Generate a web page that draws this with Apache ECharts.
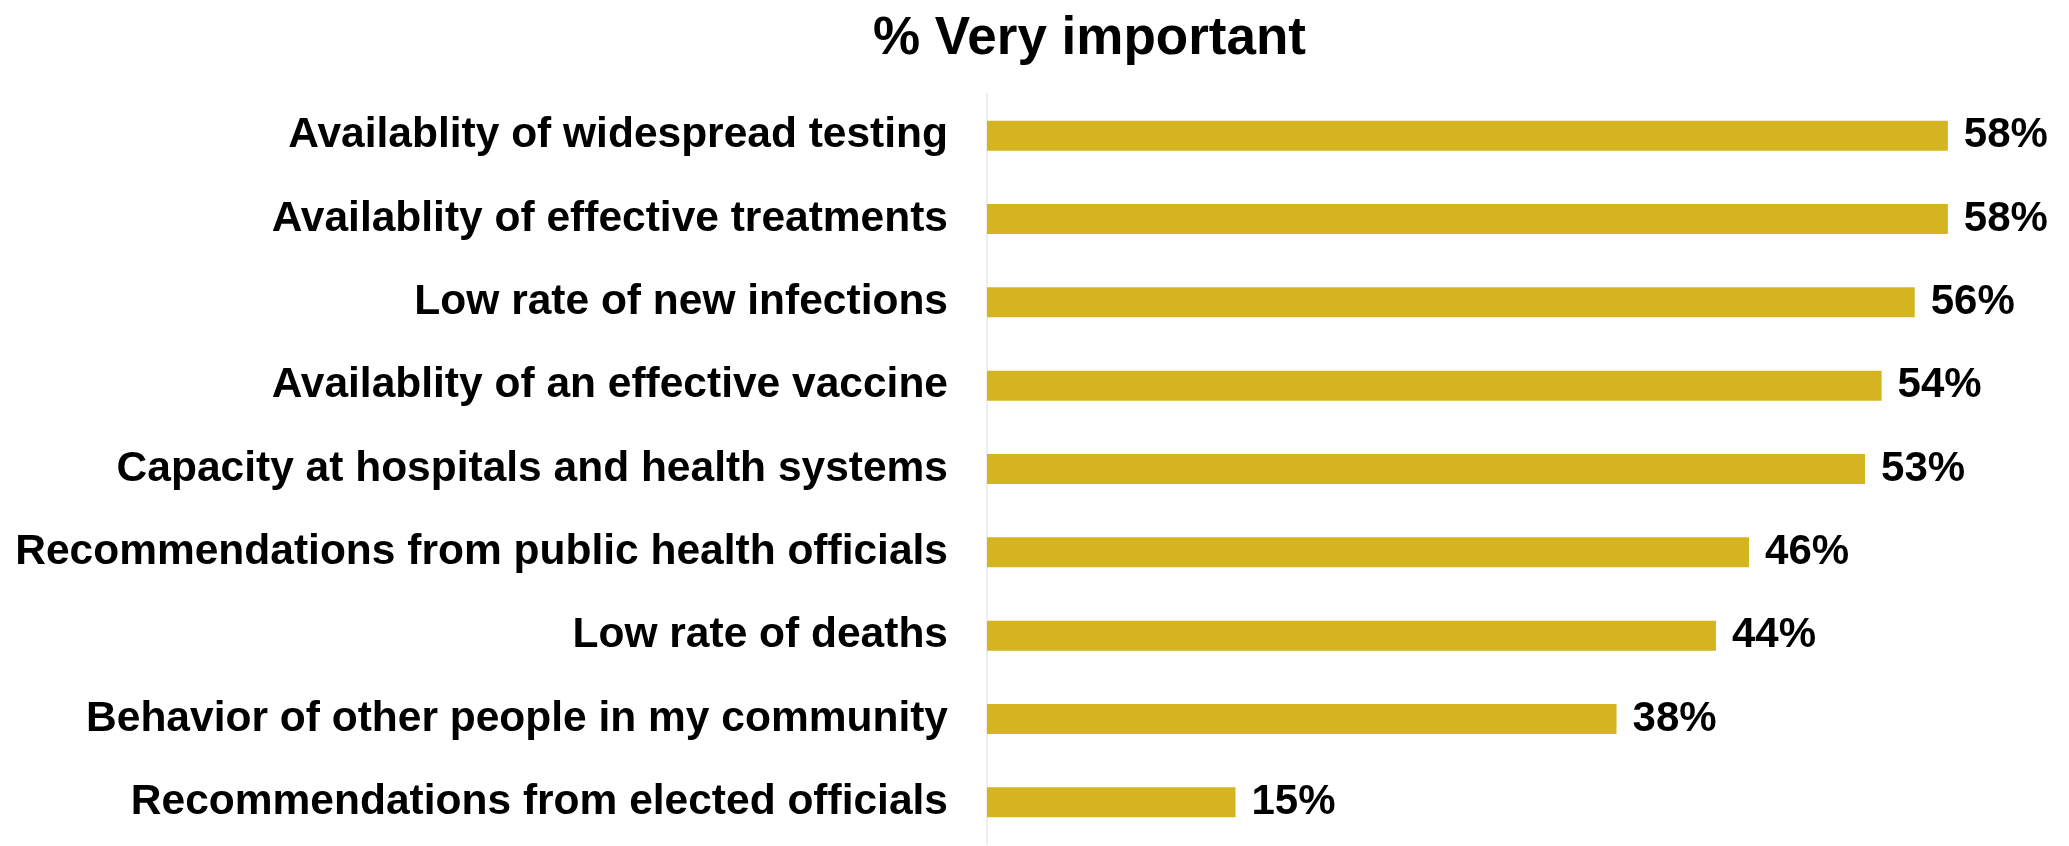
<!DOCTYPE html>
<html>
<head>
<meta charset="utf-8">
<script src="https://cdn.jsdelivr.net/npm/echarts@6/dist/echarts.min.js"></script>
<style>
html,body{margin:0;padding:0;background:#fff;}
#chart{width:2069px;height:846px;}
</style>
</head>
<body>
<div id="chart"></div>
<script>
const titleText = '% Very important';
const categories = [
  'Availablity of widespread testing',
  'Availablity of effective treatments',
  'Low rate of new infections',
  'Availablity of an effective vaccine',
  'Capacity at hospitals and health systems',
  'Recommendations from public health officials',
  'Low rate of deaths',
  'Behavior of other people in my community',
  'Recommendations from elected officials'
];
const values = [58, 58, 56, 54, 53, 46, 44, 38, 15];

const FONT = '"Liberation Sans", Arial, Helvetica, sans-serif';
const chart = echarts.init(document.getElementById('chart'));
chart.setOption({
  backgroundColor: '#ffffff',
  animation: false,
  title: {
    text: titleText,
    left: 868,
    top: 8,
    textStyle: {fontFamily: FONT, fontSize: 53, fontWeight: 'bold', color: '#000'}
  },
  grid: {left: 987, right: 88, top: 94, bottom: 2, containLabel: false},
  xAxis: {
    type: 'value', min: 0, max: 60, show: false,
    splitLine: {show: false}
  },
  yAxis: {
    type: 'category',
    data: categories,
    inverse: true,
    axisTick: {show: false},
    axisLine: {show: true, lineStyle: {color: '#eeeeee', width: 2}},
    axisLabel: {
      margin: 39,
      fontFamily: FONT, fontSize: 42.5, fontWeight: 'bold', color: '#000'
    }
  },
  series: [{
    type: 'bar',
    data: values,
    barWidth: 30,
    itemStyle: {color: '#D4B520'},
    label: {
      show: true, position: 'right', distance: 16,
      formatter: p => p.value + '%',
      fontFamily: FONT, fontSize: 42, fontWeight: 'bold', color: '#000'
    }
  }]
});
</script>
</body>
</html>
